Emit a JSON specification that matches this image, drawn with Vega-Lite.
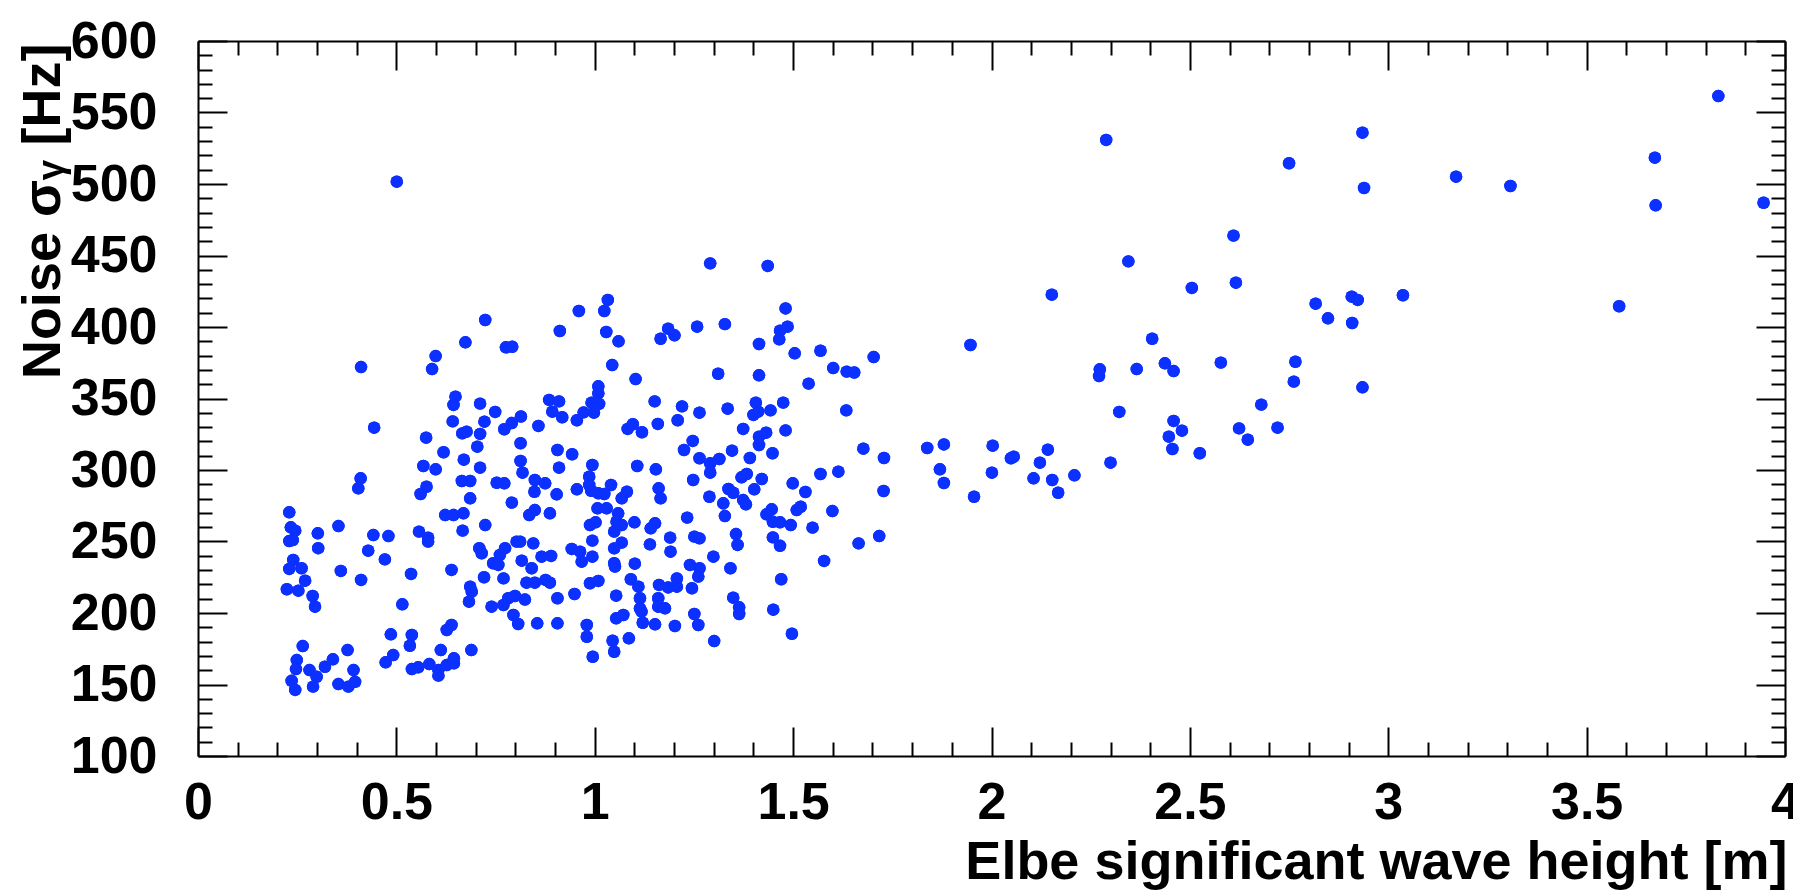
{
  "$schema": "https://vega.github.io/schema/vega-lite/v6.json",
  "width": 1587,
  "height": 715,
  "autosize": {"type": "none"},
  "padding": {"left": 198, "top": 41, "right": 8, "bottom": 140},
  "background": "white",
  "config": {
    "view": {"stroke": null},
    "axis": {
      "grid": false,
      "domainColor": "black",
      "domainWidth": 2,
      "tickColor": "black",
      "tickWidth": 2,
      "labelFont": "Liberation Sans",
      "labelFontWeight": "bold",
      "labelFontSize": 52,
      "labelColor": "black",
      "labelFlush": false,
      "labelOverlap": false,
      "titleFont": "Liberation Sans",
      "titleFontWeight": "bold",
      "titleFontSize": 54,
      "titleColor": "black"
    }
  },
  "data": {"values": [
    {"h":0.724,"n":404.9},{"h":0.674,"n":389.3},{"h":0.599,"n":379.7},{"h":0.590,"n":370.6},{"h":0.411,"n":372.0},{"h":0.649,"n":351.3},{"h":0.644,"n":345.5},{"h":0.711,"n":346.4},{"h":0.642,"n":334.0},{"h":0.722,"n":333.8},{"h":0.666,"n":325.6},{"h":0.677,"n":326.8},{"h":0.711,"n":325.2},{"h":0.444,"n":329.6},{"h":0.575,"n":322.6},{"h":0.704,"n":316.3},{"h":0.619,"n":312.4},{"h":0.670,"n":307.2},{"h":0.568,"n":302.8},{"h":0.599,"n":300.5},{"h":0.711,"n":301.6},
    {"h":1.033,"n":418.9},{"h":1.024,"n":411.2},{"h":0.960,"n":411.2},{"h":0.912,"n":397.2},{"h":1.029,"n":396.5},{"h":1.060,"n":390.0},{"h":0.776,"n":385.8},{"h":0.792,"n":386.2},{"h":1.185,"n":398.8},{"h":1.166,"n":391.8},{"h":1.201,"n":394.2},{"h":1.258,"n":400.2},{"h":1.044,"n":373.4},{"h":1.103,"n":363.6},{"h":1.009,"n":358.5},{"h":1.009,"n":353.6},{"h":0.885,"n":349.0},{"h":0.910,"n":348.0},{"h":0.893,"n":340.8},{"h":0.918,"n":336.9},{"h":0.992,"n":347.1},{"h":1.011,"n":346.2},{"h":0.972,"n":340.3},{"h":0.998,"n":340.1},{"h":0.955,"n":334.8},{"h":1.151,"n":348.0},{"h":1.220,"n":344.5},{"h":1.209,"n":334.8},{"h":1.264,"n":340.1},{"h":0.749,"n":340.6},{"h":0.772,"n":328.5},{"h":0.791,"n":332.8},{"h":0.814,"n":337.4},{"h":0.858,"n":330.8},{"h":0.813,"n":318.7},{"h":0.813,"n":306.3},{"h":0.906,"n":314.0},{"h":0.943,"n":311.0},{"h":0.910,"n":301.6},{"h":0.994,"n":303.5},{"h":1.083,"n":328.7},{"h":1.096,"n":332.0},{"h":1.119,"n":326.4},{"h":1.159,"n":332.2},{"h":1.107,"n":302.8},{"h":1.154,"n":300.5},{"h":1.225,"n":314.0},{"h":1.247,"n":320.3},{"h":1.264,"n":308.2},
    {"h":1.291,"n":444.5},{"h":1.436,"n":442.7},{"h":1.481,"n":413.0},{"h":1.486,"n":400.2},{"h":1.467,"n":397.4},{"h":1.465,"n":391.4},{"h":1.328,"n":402.0},{"h":1.414,"n":388.1},{"h":1.504,"n":381.6},{"h":1.569,"n":383.4},{"h":1.601,"n":371.3},{"h":1.635,"n":368.8},{"h":1.654,"n":368.2},{"h":1.703,"n":379.0},{"h":1.311,"n":367.3},{"h":1.414,"n":366.2},{"h":1.539,"n":360.4},{"h":1.634,"n":341.7},{"h":1.335,"n":342.9},{"h":1.406,"n":347.1},{"h":1.400,"n":338.5},{"h":1.412,"n":340.8},{"h":1.443,"n":341.7},{"h":1.475,"n":347.1},{"h":1.374,"n":328.7},{"h":1.414,"n":323.3},{"h":1.432,"n":326.1},{"h":1.414,"n":317.5},{"h":1.481,"n":327.7},{"h":1.346,"n":313.5},{"h":1.314,"n":307.7},{"h":1.291,"n":304.7},{"h":1.391,"n":308.4},{"h":1.448,"n":311.7},{"h":1.677,"n":314.9},{"h":1.729,"n":308.4},
    {"h":1.291,"n":298.1},{"h":1.370,"n":294.9},{"h":1.383,"n":297.2},{"h":1.421,"n":293.7},{"h":1.569,"n":297.2},{"h":1.614,"n":298.8},{"h":1.499,"n":290.7},{"h":1.531,"n":284.6},{"h":1.728,"n":285.3},{"h":1.337,"n":286.7},{"h":1.349,"n":284.1},{"h":1.402,"n":286.5},{"h":1.289,"n":281.3},{"h":1.324,"n":276.7},{"h":1.328,"n":267.8},{"h":1.374,"n":279.0},{"h":1.381,"n":276.0},{"h":1.446,"n":272.5},{"h":1.433,"n":269.0},{"h":1.449,"n":263.8},{"h":1.467,"n":263.4},{"h":1.494,"n":261.5},{"h":1.509,"n":272.0},{"h":1.519,"n":274.3},{"h":1.599,"n":271.3},{"h":1.549,"n":259.7},{"h":1.356,"n":255.2},{"h":1.360,"n":247.6},{"h":1.449,"n":252.9},{"h":1.467,"n":247.0},{"h":1.665,"n":248.7},{"h":1.717,"n":253.8},{"h":1.299,"n":239.4},{"h":1.342,"n":231.3},{"h":1.578,"n":236.4},{"h":1.470,"n":223.6},{"h":1.349,"n":210.7},{"h":1.364,"n":204.0},{"h":1.364,"n":199.3},{"h":1.450,"n":202.3},{"h":1.301,"n":180.4},{"h":1.497,"n":185.5},
    {"h":0.753,"n":291.1},{"h":0.772,"n":290.7},{"h":0.818,"n":298.1},{"h":0.849,"n":293.0},{"h":0.875,"n":290.7},{"h":0.848,"n":284.8},{"h":0.904,"n":283.0},{"h":0.791,"n":277.2},{"h":0.835,"n":268.5},{"h":0.849,"n":272.0},{"h":0.887,"n":269.7},{"h":0.955,"n":286.5},{"h":0.986,"n":295.3},{"h":0.986,"n":289.5},{"h":0.991,"n":285.5},{"h":1.009,"n":283.7},{"h":1.024,"n":283.2},{"h":1.041,"n":289.5},{"h":1.068,"n":280.2},{"h":1.081,"n":284.8},{"h":1.161,"n":287.2},{"h":1.166,"n":280.2},{"h":1.248,"n":293.0},{"h":1.007,"n":273.2},{"h":1.030,"n":273.2},{"h":1.059,"n":269.7},{"h":1.055,"n":263.8},{"h":1.068,"n":261.5},{"h":1.049,"n":256.9},{"h":0.988,"n":261.5},{"h":1.002,"n":263.4},{"h":1.100,"n":263.4},{"h":1.152,"n":262.7},{"h":1.141,"n":259.2},{"h":1.233,"n":266.7},{"h":0.724,"n":261.5},{"h":1.190,"n":252.7},{"h":1.191,"n":242.9},{"h":1.251,"n":253.4},{"h":1.264,"n":252.2},{"h":1.139,"n":248.0},{"h":1.068,"n":249.2},{"h":1.049,"n":245.2},{"h":0.994,"n":250.6},{"h":0.994,"n":239.4},{"h":1.049,"n":234.8},{"h":1.051,"n":232.5},{"h":1.101,"n":234.5},{"h":0.942,"n":244.8},{"h":0.963,"n":242.9},{"h":0.967,"n":235.9},{"h":0.845,"n":248.7},{"h":0.803,"n":249.9},{"h":0.812,"n":249.9},{"h":0.774,"n":245.3},{"h":0.761,"n":240.6},{"h":0.744,"n":234.8},{"h":0.757,"n":233.6},{"h":0.816,"n":236.6},{"h":0.841,"n":231.3},{"h":0.866,"n":239.4},{"h":0.890,"n":239.9},{"h":0.770,"n":224.2},{"h":0.721,"n":225.0},{"h":0.828,"n":221.2},{"h":0.849,"n":221.2},{"h":0.876,"n":223.1},{"h":0.887,"n":221.2},{"h":0.988,"n":220.8},{"h":1.009,"n":222.4},{"h":1.091,"n":223.6},{"h":1.110,"n":218.4},{"h":1.162,"n":219.6},{"h":1.185,"n":217.9},{"h":1.207,"n":224.2},{"h":1.207,"n":218.4},{"h":1.245,"n":217.3},{"h":1.264,"n":231.3},{"h":1.240,"n":233.6},{"h":1.261,"n":225.5},{"h":0.949,"n":213.3},{"h":0.906,"n":210.3},{"h":0.799,"n":211.9},{"h":0.782,"n":210.3},{"h":0.770,"n":205.6},{"h":0.740,"n":204.4},{"h":0.824,"n":209.4},{"h":0.795,"n":198.6},{"h":0.807,"n":192.3},{"h":0.855,"n":192.8},{"h":0.906,"n":192.8},{"h":1.054,"n":212.1},{"h":1.114,"n":210.3},{"h":1.114,"n":203.3},{"h":1.118,"n":201.0},{"h":1.160,"n":210.3},{"h":1.160,"n":204.4},{"h":1.177,"n":203.3},{"h":1.054,"n":196.3},{"h":1.072,"n":198.6},{"h":1.121,"n":193.2},{"h":1.152,"n":192.1},{"h":1.202,"n":190.9},{"h":1.251,"n":199.3},{"h":1.261,"n":191.6},{"h":0.980,"n":191.6},{"h":0.980,"n":183.4},{"h":0.995,"n":169.4},{"h":1.045,"n":180.6},{"h":1.049,"n":172.9},{"h":1.086,"n":182.3},
    {"h":0.410,"n":294.2},{"h":0.404,"n":287.2},{"h":0.576,"n":288.3},{"h":0.561,"n":283.2},{"h":0.665,"n":292.3},{"h":0.686,"n":292.3},{"h":0.686,"n":280.2},{"h":0.623,"n":268.5},{"h":0.644,"n":268.5},{"h":0.669,"n":269.7},{"h":0.667,"n":257.6},{"h":0.230,"n":270.4},{"h":0.234,"n":259.9},{"h":0.245,"n":257.6},{"h":0.230,"n":250.3},{"h":0.239,"n":251.0},{"h":0.302,"n":255.7},{"h":0.303,"n":245.3},{"h":0.354,"n":260.8},{"h":0.442,"n":254.5},{"h":0.480,"n":253.8},{"h":0.429,"n":243.6},{"h":0.471,"n":237.5},{"h":0.557,"n":256.9},{"h":0.580,"n":252.7},{"h":0.580,"n":249.9},{"h":0.639,"n":230.1},{"h":0.709,"n":245.3},{"h":0.715,"n":241.8},{"h":0.240,"n":237.1},{"h":0.230,"n":230.8},{"h":0.261,"n":231.3},{"h":0.270,"n":222.6},{"h":0.253,"n":215.6},{"h":0.224,"n":216.6},{"h":0.289,"n":211.9},{"h":0.295,"n":204.4},{"h":0.360,"n":229.4},{"h":0.411,"n":223.1},{"h":0.537,"n":227.3},{"h":0.515,"n":206.1},{"h":0.686,"n":218.4},{"h":0.690,"n":214.9},{"h":0.683,"n":207.9},{"h":0.486,"n":185.1},{"h":0.539,"n":184.6},{"h":0.534,"n":177.1},{"h":0.627,"n":188.1},{"h":0.639,"n":191.6},{"h":0.612,"n":174.1},{"h":0.689,"n":174.1},{"h":0.492,"n":170.6},{"h":0.473,"n":165.5},{"h":0.539,"n":160.8},{"h":0.555,"n":162.0},{"h":0.583,"n":164.3},{"h":0.606,"n":160.1},{"h":0.606,"n":156.2},{"h":0.627,"n":163.6},{"h":0.645,"n":168.3},{"h":0.645,"n":164.8},{"h":0.264,"n":176.9},{"h":0.249,"n":167.1},{"h":0.247,"n":160.8},{"h":0.281,"n":160.1},{"h":0.299,"n":155.4},{"h":0.320,"n":162.4},{"h":0.340,"n":167.6},{"h":0.377,"n":174.1},{"h":0.392,"n":160.1},{"h":0.396,"n":151.9},{"h":0.354,"n":150.3},{"h":0.379,"n":148.5},{"h":0.236,"n":152.6},{"h":0.245,"n":146.2},{"h":0.290,"n":148.5},
    {"h":2.289,"n":530.8},{"h":2.750,"n":514.5},{"h":2.610,"n":463.9},{"h":2.345,"n":445.9},{"h":2.505,"n":427.3},{"h":2.616,"n":431.0},{"h":2.152,"n":422.6},{"h":2.817,"n":416.3},{"h":2.848,"n":406.1},{"h":1.947,"n":387.4},{"h":2.405,"n":391.8},{"h":2.273,"n":370.4},{"h":2.271,"n":365.7},{"h":2.366,"n":370.6},{"h":2.437,"n":374.6},{"h":2.459,"n":369.2},{"h":2.578,"n":375.1},{"h":2.766,"n":375.7},{"h":2.762,"n":361.8},{"h":2.680,"n":345.7},{"h":2.322,"n":340.6},{"h":2.459,"n":334.3},{"h":2.480,"n":327.5},{"h":2.447,"n":323.3},{"h":2.456,"n":314.7},{"h":2.624,"n":329.1},{"h":2.646,"n":321.2},{"h":2.721,"n":329.6},{"h":2.525,"n":311.7},{"h":2.300,"n":305.1},{"h":1.838,"n":315.4},{"h":1.880,"n":317.9},{"h":1.870,"n":300.5},{"h":1.880,"n":290.9},{"h":1.956,"n":281.3},{"h":2.003,"n":317.0},{"h":2.001,"n":298.1},{"h":2.049,"n":308.2},{"h":2.056,"n":309.3},{"h":2.142,"n":314.2},{"h":2.122,"n":305.1},{"h":2.106,"n":294.2},{"h":2.153,"n":293.0},{"h":2.168,"n":284.1},{"h":2.209,"n":296.3},
    {"h":3.832,"n":561.5},{"h":2.935,"n":535.9},{"h":2.939,"n":497.2},{"h":3.171,"n":505.1},{"h":3.308,"n":498.6},{"h":3.672,"n":518.4},{"h":3.674,"n":485.1},{"h":3.946,"n":486.9},{"h":2.908,"n":421.2},{"h":2.923,"n":418.9},{"h":3.037,"n":422.2},{"h":2.909,"n":402.8},{"h":3.582,"n":414.5},{"h":2.935,"n":357.8},
    {"h":0.501,"n":501.6}
  ]},
  "layer": [
    {
      "mark": {"type": "circle", "size": 155, "color": "#0b30ff", "opacity": 1},
      "encoding": {
        "x": {"field": "h", "type": "quantitative",
          "scale": {"domain": [0, 4], "nice": false, "zero": false},
          "axis": {
            "orient": "bottom",
            "values": [0,0.1,0.2,0.3,0.4,0.5,0.6,0.7,0.8,0.9,1,1.1,1.2,1.3,1.4,1.5,1.6,1.7,1.8,1.9,2,2.1,2.2,2.3,2.4,2.5,2.6,2.7,2.8,2.9,3,3.1,3.2,3.3,3.4,3.5,3.6,3.7,3.8,3.9,4],
            "tickSize": {"condition": {"test": "abs(datum.value*2-round(datum.value*2))<0.001", "value": -29}, "value": -14},
            "labelExpr": "abs(datum.value*2-round(datum.value*2))<0.001 ? format(datum.value,'~g') : ''",
            "labelPadding": 50,
            "title": "Elbe significant wave height [m]",
            "titleAnchor": "end",
            "titleAlign": "right",
            "titleBaseline": "alphabetic",
            "titleX": 1589,
            "titleY": 122
          }
        },
        "y": {"field": "n", "type": "quantitative",
          "scale": {"domain": [100, 600], "nice": false, "zero": false},
          "axis": {
            "orient": "left",
            "values": [100,110,120,130,140,150,160,170,180,190,200,210,220,230,240,250,260,270,280,290,300,310,320,330,340,350,360,370,380,390,400,410,420,430,440,450,460,470,480,490,500,510,520,530,540,550,560,570,580,590,600],
            "tickSize": {"condition": {"test": "datum.value % 50 === 0", "value": -29}, "value": -14},
            "labelExpr": "datum.value % 50 === 0 ? format(datum.value,'d') : ''",
            "labelPadding": 70,
            "title": "Noise σᵧ [Hz]",
            "titleAnchor": "end",
            "titleAngle": 270,
            "titleAlign": "right",
            "titleBaseline": "alphabetic",
            "titleX": -139,
            "titleY": 2
          }
        }
      }
    },
    {
      "mark": {"type": "circle", "size": 155, "color": "#0b30ff", "opacity": 1},
      "encoding": {
        "x": {"field": "h", "type": "quantitative",
          "scale": {"domain": [0, 4], "nice": false, "zero": false},
          "axis": {
            "orient": "top",
            "values": [0,0.1,0.2,0.3,0.4,0.5,0.6,0.7,0.8,0.9,1,1.1,1.2,1.3,1.4,1.5,1.6,1.7,1.8,1.9,2,2.1,2.2,2.3,2.4,2.5,2.6,2.7,2.8,2.9,3,3.1,3.2,3.3,3.4,3.5,3.6,3.7,3.8,3.9,4],
            "tickSize": {"condition": {"test": "abs(datum.value*2-round(datum.value*2))<0.001", "value": -29}, "value": -14},
            "labels": false,
            "title": null
          }
        },
        "y": {"field": "n", "type": "quantitative",
          "scale": {"domain": [100, 600], "nice": false, "zero": false},
          "axis": {
            "orient": "right",
            "values": [100,110,120,130,140,150,160,170,180,190,200,210,220,230,240,250,260,270,280,290,300,310,320,330,340,350,360,370,380,390,400,410,420,430,440,450,460,470,480,490,500,510,520,530,540,550,560,570,580,590,600],
            "tickSize": {"condition": {"test": "datum.value % 50 === 0", "value": -29}, "value": -14},
            "labels": false,
            "title": null
          }
        }
      }
    }
  ],
  "resolve": {"axis": {"x": "independent", "y": "independent"}}
}
